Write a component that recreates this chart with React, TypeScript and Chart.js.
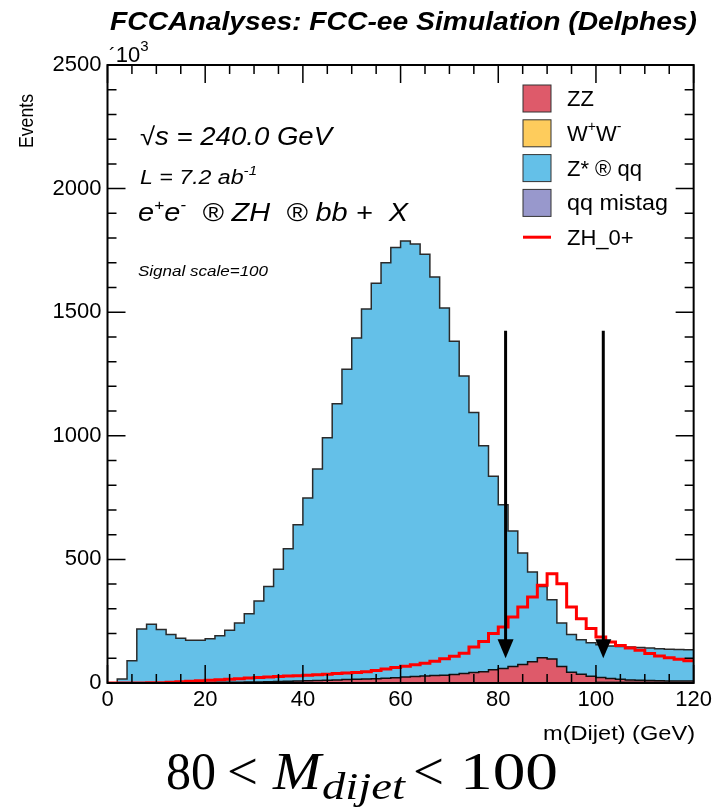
import React, { useEffect, useRef } from "react";
import { Chart, registerables } from "chart.js";

Chart.register(...registerables);

// ---------------- data ----------------
const binLow = [
  0, 2, 4, 6, 8, 10, 12, 14, 16, 18,
  20, 22, 24, 26, 28, 30, 32, 34, 36, 38,
  40, 42, 44, 46, 48, 50, 52, 54, 56, 58,
  60, 62, 64, 66, 68, 70, 72, 74, 76, 78,
  80, 82, 84, 86, 88, 90, 92, 94, 96, 98,
  100, 102, 104, 106, 108, 110, 112, 114, 116, 118,
];
const xMax = 120;

// qq mistag (bottom of stack)
const mistagValues = [
  0, 0, 0, 0, 0, 0, 0, 0, 0, 0,
  0, 0, 0, 0, 0, 0, 0, 0, 0, 0,
  1, 1, 1, 1, 1, 1, 1, 1, 1, 1,
  1, 1, 1, 1, 1, 1, 1, 1, 1, 1,
  2, 2, 2, 2, 2, 2, 2, 2, 2, 2,
  4, 4, 4, 4, 4, 4, 4, 4, 4, 4,
];
// ZZ
const zzValues = [
  0, 0, 0, 0, 0, 1, 1, 1, 2, 2,
  2, 3, 3, 3, 4, 4, 5, 6, 7, 8,
  8, 9, 10, 11, 13, 14, 15, 16, 18, 20,
  23, 25, 27, 29, 30, 33, 37, 41, 45, 53,
  57, 65, 73, 84, 100, 95, 65, 41, 33, 25,
  18, 14, 11, 8, 7, 6, 5, 4, 4, 4,
];
// W+W-
const wwValues = [
  0, 0, 0, 0, 0, 0, 0, 0, 0, 0,
  0, 0, 0, 0, 0, 0, 0, 0, 0, 0,
  0, 0, 0, 0, 0, 0, 0, 0, 0, 0,
  0, 0, 0, 0, 0, 0, 0, 0, 0, 0,
  0, 0, 0, 0, 0, 0, 0, 0, 0, 0,
  0, 0, 0, 0, 0, 0, 0, 0, 0, 0,
];
// Z* -> qq
const zstarValues = [
  0, 16, 90, 218, 238, 215, 195, 180, 171, 171,
  177, 188, 210, 240, 276, 328, 385, 454, 536, 632,
  739, 856, 981, 1118, 1255, 1381, 1497, 1600, 1681, 1741,
  1764, 1750, 1706, 1612, 1486, 1348, 1204, 1052, 914, 782,
  662, 548, 451, 363, 288, 240, 176, 153, 140, 136,
  133, 132, 133, 134, 133, 132, 130, 129, 128, 127,
];
// ZH_0+ signal (x100)
const signalValues = [
  0, 0, 0, 0, 1, 1, 3, 5, 7, 9,
  11, 13, 15, 17, 20, 22, 24, 26, 28, 29,
  31, 33, 35, 38, 40, 42, 46, 51, 57, 63,
  68, 74, 80, 88, 98, 108, 120, 146, 168, 200,
  227, 267, 307, 348, 395, 442, 402, 307, 260, 220,
  186, 166, 152, 142, 132, 119, 109, 102, 96, 90,
];

const xTickValues = [0, 20, 40, 60, 80, 100, 120];
const yTickValues = [0, 500, 1000, 1500, 2000, 2500];
const cutValues = [81.5, 101.5];
const arrowTopValue = 1425;
const arrowTipValue = 100;

const legendLabels = ["ZZ", "W+W-", "Z* ® qq", "qq mistag", "ZH_0+"];

// ---------------- styles ----------------
const SANS = '"Liberation Sans", Arial, Helvetica, sans-serif';
const SERIF = '"Liberation Serif", "Times New Roman", serif';
const C_ZZ = "rgb(222,90,106)";
const C_WW = "rgb(254,204,92)";
const C_ZSTAR = "rgb(100,192,232)";
const C_MISTAG = "rgb(152,152,204)";
const C_SIG = "#ff0000";

type Seg = { t: string; size: number; style?: string; dy?: number; family?: string };

function drawRich(ctx: CanvasRenderingContext2D, x: number, y: number, segs: Seg[], target?: number) {
  const widths = segs.map((s) => {
    ctx.font = `${s.style || ""} ${s.size}px ${s.family || SANS}`;
    return ctx.measureText(s.t).width;
  });
  const total = widths.reduce((a, b) => a + b, 0);
  const sx = target ? target / total : 1;
  ctx.save();
  ctx.translate(x, y);
  ctx.scale(sx, 1);
  ctx.textBaseline = "alphabetic";
  ctx.textAlign = "left";
  let cx = 0;
  segs.forEach((s, i) => {
    ctx.font = `${s.style || ""} ${s.size}px ${s.family || SANS}`;
    ctx.fillText(s.t, cx, s.dy || 0);
    cx += widths[i];
  });
  ctx.restore();
}

function toSteps(values: number[]) {
  const pts = binLow.map((x, i) => ({ x, y: values[i] }));
  pts.push({ x: xMax, y: values[values.length - 1] });
  return pts;
}

const rootPlugin = {
  id: "rootDecor",
  afterDatasetsDraw(chart: any) {
    const { ctx, chartArea: a, scales } = chart;
    const xs = scales.x;
    const ys = scales.y;
    ctx.save();
    // arrows
    ctx.fillStyle = "#000";
    ctx.strokeStyle = "#000";
    cutValues.forEach((c) => {
      const px = xs.getPixelForValue(c);
      const top = ys.getPixelForValue(arrowTopValue);
      const tip = ys.getPixelForValue(arrowTipValue);
      const head = 19;
      ctx.lineWidth = 3;
      ctx.beginPath();
      ctx.moveTo(px, top);
      ctx.lineTo(px, tip - head + 2);
      ctx.stroke();
      ctx.beginPath();
      ctx.moveTo(px - 8, tip - head);
      ctx.lineTo(px + 8, tip - head);
      ctx.lineTo(px, tip);
      ctx.closePath();
      ctx.fill();
    });
    // frame
    ctx.lineWidth = 2;
    ctx.strokeRect(a.left, a.top, a.right - a.left, a.bottom - a.top);
    ctx.lineWidth = 1.5;
    ctx.beginPath();
    for (let v = 0; v <= xMax; v += 5) {
      const px = xs.getPixelForValue(v);
      const len = v % 20 === 0 ? 18 : 9;
      ctx.moveTo(px, a.bottom);
      ctx.lineTo(px, a.bottom - len);
      ctx.moveTo(px, a.top);
      ctx.lineTo(px, a.top + len);
    }
    for (let v = 0; v <= 2500; v += 100) {
      const py = ys.getPixelForValue(v);
      const len = v % 500 === 0 ? 18 : 9;
      ctx.moveTo(a.left, py);
      ctx.lineTo(a.left + len, py);
      ctx.moveTo(a.right, py);
      ctx.lineTo(a.right - len, py);
    }
    ctx.stroke();
    ctx.restore();
  },
  afterDraw(chart: any) {
    const { ctx } = chart;
    ctx.save();
    ctx.fillStyle = "#000";
    // title
    drawRich(ctx, 110, 30, [{ t: "FCCAnalyses: FCC-ee Simulation (Delphes)", size: 26, style: "italic bold" }], 587);
    // exponent
    drawRich(ctx, 109, 62, [
      { t: "´", size: 20 },
      { t: "10", size: 22 },
      { t: "3", size: 15, dy: -11 },
    ]);
    // y title
    ctx.save();
    ctx.translate(33, 148);
    ctx.rotate(-Math.PI / 2);
    drawRich(ctx, 0, 0, [{ t: "Events", size: 21 }], 54);
    ctx.restore();
    // x title
    drawRich(ctx, 543, 740, [{ t: "m(Dijet) (GeV)", size: 20 }], 152);
    // annotations
    drawRich(ctx, 140, 145, [{ t: "√s = 240.0 GeV", size: 25, style: "italic" }], 192);
    drawRich(ctx, 140, 184, [
      { t: "L = 7.2 ab", size: 20, style: "italic" },
      { t: "-1", size: 13, style: "italic", dy: -9 },
    ], 117);
    drawRich(ctx, 138, 221, [
      { t: "e", size: 25, style: "italic" },
      { t: "+", size: 15, style: "italic", dy: -11 },
      { t: "e", size: 25, style: "italic" },
      { t: "-", size: 15, style: "italic", dy: -11 },
      { t: "  ® ZH  ® bb +  X", size: 25, style: "italic" },
    ], 270);
    drawRich(ctx, 138, 276, [{ t: "Signal scale=100", size: 14, style: "italic" }], 130);

    // legend
    const colors = [C_ZZ, C_WW, C_ZSTAR, C_MISTAG];
    for (let i = 0; i < 5; i++) {
      const cy = 98 + i * 34.8;
      if (i < 4) {
        ctx.fillStyle = colors[i];
        ctx.fillRect(523, cy - 13, 28, 27);
        ctx.strokeStyle = "#333";
        ctx.lineWidth = 1;
        ctx.strokeRect(523, cy - 13, 28, 27);
      } else {
        ctx.strokeStyle = C_SIG;
        ctx.lineWidth = 3;
        ctx.beginPath();
        ctx.moveTo(523, cy);
        ctx.lineTo(551, cy);
        ctx.stroke();
      }
      ctx.fillStyle = "#000";
      const base = cy + 8;
      if (legendLabels[i] === "W+W-") {
        drawRich(ctx, 567, base, [
          { t: "W", size: 22 },
          { t: "+", size: 14, dy: -10 },
          { t: "W", size: 22 },
          { t: "-", size: 14, dy: -10 },
        ]);
      } else if (legendLabels[i] === "qq mistag") {
        drawRich(ctx, 567, base, [{ t: legendLabels[i], size: 22 }], 101);
      } else {
        drawRich(ctx, 567, base, [{ t: legendLabels[i], size: 22 }]);
      }
    }

    // bottom formula
    ctx.fillStyle = "#000";
    drawRich(ctx, 166, 789, [{ t: "80", size: 52, family: SERIF }], 50);
    drawRich(ctx, 227, 789, [{ t: "<", size: 52, family: SERIF }], 31);
    drawRich(ctx, 273, 789, [{ t: "M", size: 52, family: SERIF, style: "italic" }], 48);
    drawRich(ctx, 322, 799, [{ t: "dijet", size: 38, family: SERIF, style: "italic" }], 83);
    drawRich(ctx, 413, 789, [{ t: "<", size: 52, family: SERIF }], 31);
    drawRich(ctx, 460, 789, [{ t: "100", size: 52, family: SERIF }], 98);
    ctx.restore();
  },
};

export default function App() {
  const ref = useRef<HTMLCanvasElement | null>(null);
  useEffect(() => {
    if (!ref.current) return;
    const common = { pointRadius: 0, stepped: true as const };
    const chart = new Chart(ref.current, {
      type: "line",
      data: {
        datasets: [
          { label: "qq mistag", data: toSteps(mistagValues), fill: "origin", backgroundColor: C_MISTAG, borderColor: "#333", borderWidth: 1, stack: "bkg", order: 1, ...common },
          { label: "ZZ", data: toSteps(zzValues), fill: "-1", backgroundColor: C_ZZ, borderColor: "#111", borderWidth: 1.5, stack: "bkg", order: 1, ...common },
          { label: "W+W-", data: toSteps(wwValues), fill: "-1", backgroundColor: C_WW, borderColor: "rgba(0,0,0,0)", borderWidth: 0, stack: "bkg", order: 1, ...common },
          { label: "Z* -> qq", data: toSteps(zstarValues), fill: "-1", backgroundColor: C_ZSTAR, borderColor: "#2a2a2a", borderWidth: 1.5, stack: "bkg", order: 1, ...common },
          { label: "ZH_0+", data: toSteps(signalValues), fill: false, borderColor: C_SIG, borderWidth: 3, stack: "sig", order: 0, ...common },
        ] as any,
      },
      options: {
        animation: false,
        responsive: false,
        devicePixelRatio: 1,
        layout: { padding: { top: 65, right: 21, left: 0, bottom: 0 } },
        plugins: { legend: { display: false }, tooltip: { enabled: false } },
        scales: {
          x: {
            type: "linear",
            min: 0,
            max: xMax,
            grid: { display: false, drawTicks: false },
            border: { display: false },
            ticks: { autoSkip: false, maxRotation: 0, padding: 4, color: "#000", font: { family: SANS, size: 22 }, callback: (v: any) => String(v) },
            afterBuildTicks: (s: any) => { s.ticks = xTickValues.map((v) => ({ value: v })); },
            afterFit: (s: any) => { s.height = 126; },
          },
          y: {
            type: "linear",
            stacked: true,
            min: 0,
            max: 2500,
            grid: { display: false, drawTicks: false },
            border: { display: false },
            ticks: { autoSkip: false, padding: 6, color: "#000", font: { family: SANS, size: 22 }, callback: (v: any) => String(v) },
            afterBuildTicks: (s: any) => { s.ticks = yTickValues.map((v) => ({ value: v })); },
            afterFit: (s: any) => { s.width = 107.5; },
          },
        },
      } as any,
      plugins: [rootPlugin],
    });
    return () => chart.destroy();
  }, []);
  return (
    <div style={{ position: "absolute", left: 0, top: 0, width: 716, height: 809, background: "#fff" }}>
      <canvas ref={ref} width={716} height={809} style={{ display: "block", width: 716, height: 809 }} />
    </div>
  );
}
